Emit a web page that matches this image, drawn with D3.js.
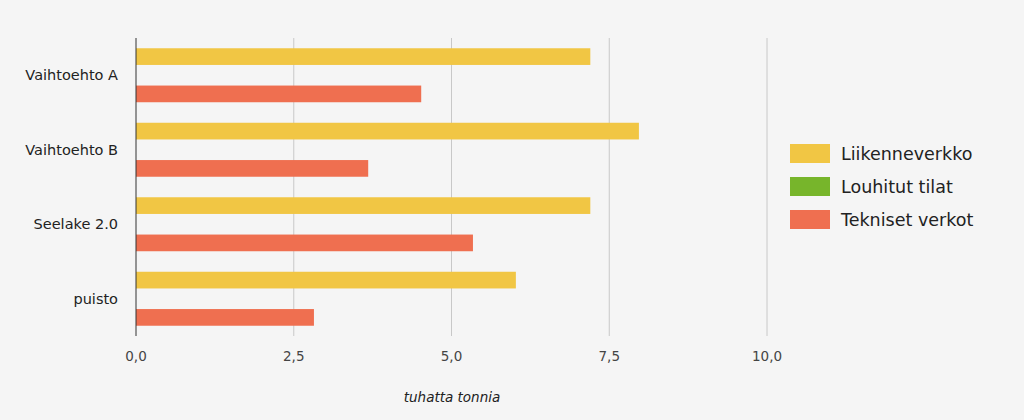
<!DOCTYPE html>
<html><head><meta charset="utf-8">
<script src="https://cdn.jsdelivr.net/npm/d3@7"></script>
<style>body{margin:0;background:#f5f5f5;font-family:"DejaVu Sans",sans-serif}</style>
</head><body><svg id="c" width="1024" height="420"></svg>
<script>
const categories=["Vaihtoehto A","Vaihtoehto B","Seelake 2.0","puisto"];
const seriesNames=["Liikenneverkko","Louhitut tilat","Tekniset verkot"];
const liikenneverkko=[7.2,7.97,7.2,6.02];
const louhitutTilat=[0,0,0,0];
const teknisetVerkot=[4.52,3.68,5.34,2.82];
const tickValues=[0,2.5,5,7.5,10];
const colors=["#f1c644","#77b52b","#ef6f50"];
const values=[liikenneverkko,louhitutTilat,teknisetVerkot];

const svg=d3.select("#c");
svg.append("rect").attr("width",1024).attr("height",420).attr("fill","#f5f5f5");
const x=d3.scaleLinear().domain([0,10]).range([136,767]);
const y=d3.scaleBand().domain(categories).range([38,336]);
const inner=d3.scaleBand().domain(seriesNames).range([0,y.bandwidth()]).paddingInner(0.105).paddingOuter(0.55);

svg.selectAll(".grid").data(tickValues.slice(1)).join("line")
 .attr("x1",d=>x(d)).attr("x2",d=>x(d)).attr("y1",38).attr("y2",336)
 .attr("stroke","#c8c8c8").attr("stroke-width",1);

seriesNames.forEach((s,si)=>{
 svg.selectAll(".b"+si).data(categories).join("rect")
  .attr("x",x(0)).attr("y",c=>y(c)+inner(s))
  .attr("width",(c,i)=>x(values[si][i])-x(0)).attr("height",inner.bandwidth())
  .attr("fill",colors[si]);
});
svg.append("line").attr("x1",x(0)).attr("x2",x(0)).attr("y1",38).attr("y2",336).attr("stroke","#333");

const fmt=d=>d3.format(".1f")(d).replace(".",",");
svg.selectAll(".xt").data(tickValues).join("text")
 .attr("x",d=>x(d)).attr("y",361).attr("text-anchor","middle")
 .attr("font-size",13.5).attr("fill","#444").text(fmt);
svg.selectAll(".yt").data(categories).join("text")
 .attr("x",118).attr("y",c=>y(c)+y.bandwidth()/2+5).attr("text-anchor","end")
 .attr("font-size",14.5).attr("fill","#222").text(d=>d);
svg.append("text").attr("x",452).attr("y",402).attr("text-anchor","middle")
 .attr("font-size",13.5).attr("font-style","italic").attr("fill","#222").text("tuhatta tonnia");

seriesNames.forEach((s,i)=>{
 svg.append("rect").attr("x",790).attr("y",144+i*33).attr("width",40).attr("height",19).attr("fill",colors[i]);
 svg.append("text").attr("x",841).attr("y",160+i*33).attr("font-size",17.5).attr("fill","#222").text(s);
});
</script></body></html>
